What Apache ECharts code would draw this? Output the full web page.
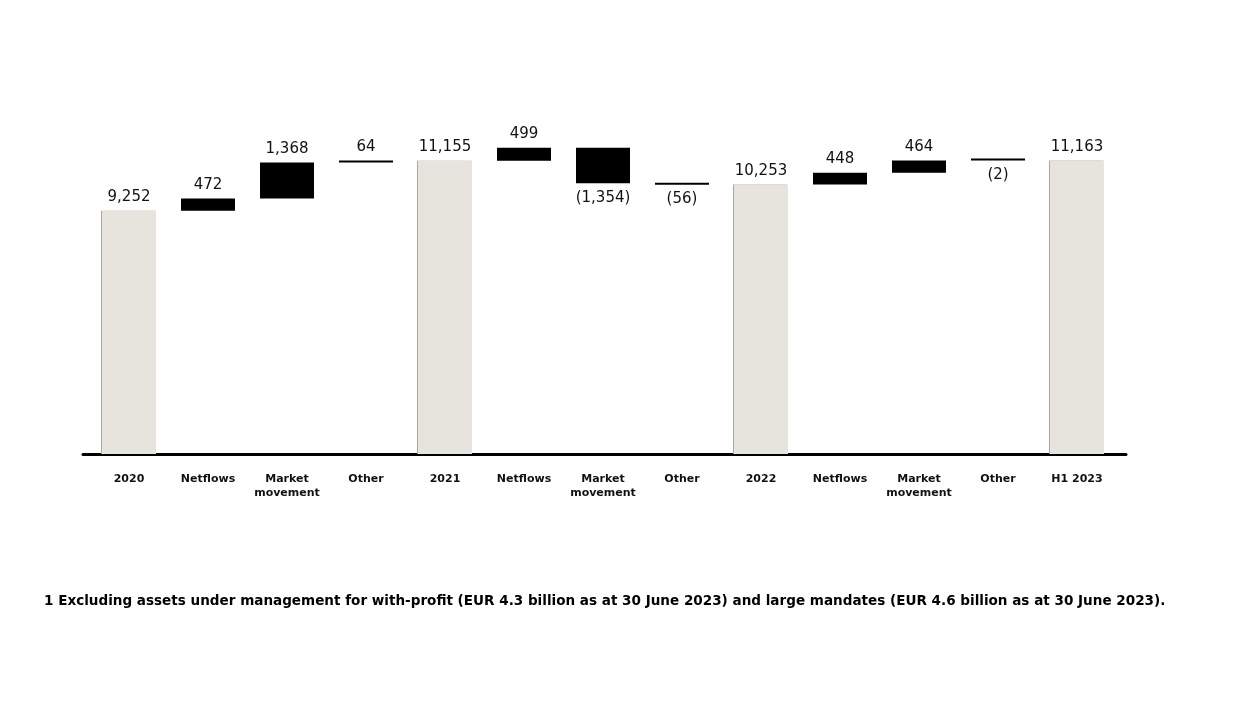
<!DOCTYPE html>
<html>
<head>
<meta charset="utf-8">
<script src="https://cdn.jsdelivr.net/npm/echarts@6/dist/echarts.min.js"></script>
<style>
html,body{margin:0;padding:0;background:#fff;}
#c{width:1236px;height:718px;}
</style>
</head>
<body>
<div id="c"></div>
<script>
const categories = ['2020','Netflows','Market\nmovement','Other','2021','Netflows','Market\nmovement','Other','2022','Netflows','Market\nmovement','Other','H1 2023'];
const values = [9252, 472, 1368, 64, 11155, 499, -1354, -56, 10253, 448, 464, -2, 11163];
const isTotal = [true, false, false, false, true, false, false, false, true, false, false, false, true];
const footnote = '1 Excluding assets under management for with-profit (EUR 4.3 billion as at 30 June 2023) and large mandates (EUR 4.6 billion as at 30 June 2023).';

const baseData = [], totalData = [], deltaData = [];
let running = 0;
values.forEach((v, i) => {
  if (isTotal[i]) {
    baseData.push(0); totalData.push(v); deltaData.push('-'); running = v;
  } else if (v >= 0) {
    baseData.push(running); totalData.push('-');
    deltaData.push({value: v, label: {position: 'top'}});
    running += v;
  } else {
    running += v; baseData.push(running); totalData.push('-');
    deltaData.push({value: -v, label: {position: 'bottom', distance: 7}});
  }
});
const fmt = n => n.toLocaleString('en-US');
const labelFont = {fontFamily: 'DejaVu Sans', fontSize: 15, color: '#111'};

const chart = echarts.init(document.getElementById('c'));
chart.setOption({
  animation: false,
  backgroundColor: '#fff',
  title: {
    text: footnote, left: 39, top: 589,
    textStyle: {fontFamily: 'DejaVu Sans', fontWeight: 'bold', fontSize: 13.55, color: '#000'}
  },
  grid: [
    {left: 89.5, width: 1027, top: 86, bottom: 264},
    {left: 83, width: 1043, top: 86, bottom: 264}
  ],
  xAxis: [
    {
      type: 'category', data: categories, gridIndex: 0,
      axisLine: {show: false}, axisTick: {show: false},
      axisLabel: {margin: 18, fontFamily: 'DejaVu Sans', fontWeight: 'bold', fontSize: 11, color: '#111', lineHeight: 14, interval: 0}
    },
    {
      type: 'value', gridIndex: 1, min: 0, max: 1,
      axisLine: {show: true, lineStyle: {color: '#000', width: 3}},
      axisTick: {show: false}, axisLabel: {show: false}, splitLine: {show: false}
    }
  ],
  yAxis: [
    {type: 'value', min: 0, max: 14000, gridIndex: 0, show: false, splitLine: {show: false}},
    {type: 'value', min: 0, max: 1, gridIndex: 1, show: false, splitLine: {show: false}}
  ],
  series: [
    {
      type: 'bar', stack: 'w', data: baseData, barWidth: 54,
      itemStyle: {color: 'transparent'}, silent: true
    },
    {
      type: 'bar', stack: 'w', data: totalData, barWidth: 54,
      itemStyle: {color: '#e7e3dd', shadowColor: '#aaa6a0', shadowOffsetX: -1, shadowBlur: 0},
      label: {show: true, position: 'top', distance: 6, ...labelFont,
        formatter: p => fmt(values[p.dataIndex])}
    },
    {
      type: 'bar', stack: 'w', data: deltaData, barWidth: 54, barMinHeight: 2,
      itemStyle: {color: '#000'},
      label: {show: true, distance: 6, ...labelFont,
        formatter: p => {
          const v = values[p.dataIndex];
          return v < 0 ? '(' + fmt(-v) + ')' : fmt(v);
        }
      }
    }
  ]
});
</script>
</body>
</html>
